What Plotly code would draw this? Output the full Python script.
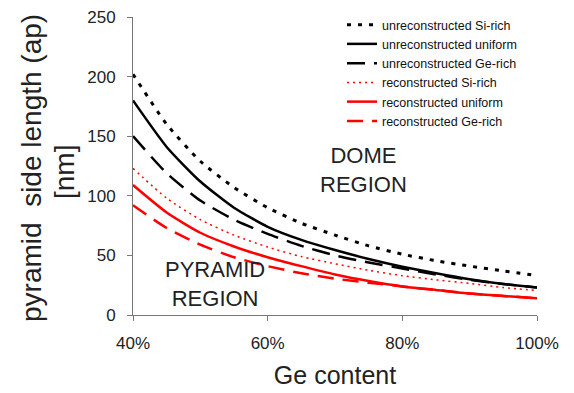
import plotly.graph_objects as go

ge_content = [0.40, 0.45, 0.50, 0.55, 0.60, 0.65, 0.70, 0.75, 0.80, 0.85, 0.90, 0.95, 1.00]

unrec_si_rich = [202, 160, 129, 107, 90, 77, 67, 58, 51, 45.5, 41, 37, 33]
unrec_uniform = [180, 141, 112, 90, 74, 63, 54.5, 47, 40.5, 35, 30, 26, 23]
unrec_ge_rich = [150, 119, 96, 80, 68, 58, 50, 44, 39, 34, 29.5, 26, 23]
rec_si_rich = [123, 98, 80, 67, 57, 49, 43, 37.5, 33, 29.5, 26.5, 23, 20.5]
rec_uniform = [109, 86, 69, 57.5, 48.5, 41, 34, 28.5, 24, 21, 18, 16, 14]
rec_ge_rich = [92, 73, 59, 48.5, 41, 35, 30.5, 27, 24, 21, 18, 16, 14]

x_ticks = [0.4, 0.6, 0.8, 1.0]
y_ticks = [0, 50, 100, 150, 200, 250]

FONT = "Arial, Liberation Sans, sans-serif"

series = [
    ("unreconstructed Si-rich", unrec_si_rich, "black", 3, "4px,7px"),
    ("unreconstructed uniform", unrec_uniform, "black", 2.5, "solid"),
    ("unreconstructed Ge-rich", unrec_ge_rich, "black", 2.5, "18px,9px"),
    ("reconstructed Si-rich", rec_si_rich, "red", 1.5, "2px,4px"),
    ("reconstructed uniform", rec_uniform, "red", 2.5, "solid"),
    ("reconstructed Ge-rich", rec_ge_rich, "red", 2.5, "16px,9px"),
]

fig = go.Figure()
for name, vals, color, width, dash in series:
    fig.add_trace(go.Scatter(
        x=ge_content, y=vals, name=name, mode="lines",
        line=dict(color=color, width=width, dash=dash, shape="spline", smoothing=0.6),
    ))

# page has an 8px body margin; figure is sized to fit inside the window
W, H = 566, 385
fig.update_layout(
    width=W, height=H,
    margin=dict(l=125, r=37, t=9, b=78, autoexpand=False),
    paper_bgcolor="white", plot_bgcolor="white",
    font=dict(family=FONT, color="#222"),
    showlegend=True,
    legend=dict(
        xref="container", yref="container",
        x=334 / W, y=1 - 2 / H, xanchor="left", yanchor="top",
        bgcolor="rgba(0,0,0,0)", font=dict(size=12.5, family=FONT, color="#111"),
        tracegroupgap=0,
    ),
    xaxis=dict(
        range=[0.4, 1.0], tickvals=x_ticks, tickformat=".0%",
        showgrid=False, zeroline=False, showline=True, linecolor="#777", linewidth=1,
        ticks="outside", ticklen=5, tickcolor="#777",
        tickfont=dict(size=17, family=FONT, color="#222"), ticklabelstandoff=8,
        ticklabeloverflow="allow",
        title=dict(text="Ge content", font=dict(size=25, family=FONT, color="#222"), standoff=14),
    ),
    yaxis=dict(
        range=[0, 250], tickvals=y_ticks,
        showgrid=False, zeroline=False, showline=True, linecolor="#777", linewidth=1,
        ticks="outside", ticklen=5, tickcolor="#777",
        tickfont=dict(size=17, family=FONT, color="#222"), ticklabelstandoff=8,
        ticklabeloverflow="allow",
    ),
    annotations=[
        dict(text="pyramid\u00a0 side length (ap)", xref="paper", yref="paper",
             x=(31 - 133) / 404, y=(315 - 168) / 298, xanchor="center", yanchor="middle",
             textangle=-90, showarrow=False, font=dict(size=28, family=FONT, color="#222")),
        dict(text="[nm]", xref="paper", yref="paper",
             x=(64 - 133) / 404, y=(315 - 172) / 298, xanchor="center", yanchor="middle",
             textangle=-90, showarrow=False, font=dict(size=28, family=FONT, color="#222")),
        dict(text="DOME<br>REGION", xref="paper", yref="paper",
             x=(363 - 133) / 404, y=(315 - 170) / 298, xanchor="center", yanchor="middle",
             showarrow=False, font=dict(size=22, family=FONT, color="#222")),
        dict(text="PYRAMID<br>REGION", xref="paper", yref="paper",
             x=(215 - 133) / 404, y=(315 - 283.5) / 298, xanchor="center", yanchor="middle",
             showarrow=False, font=dict(size=22, family=FONT, color="#222")),
    ],
)

fig.write_html("out.html")
